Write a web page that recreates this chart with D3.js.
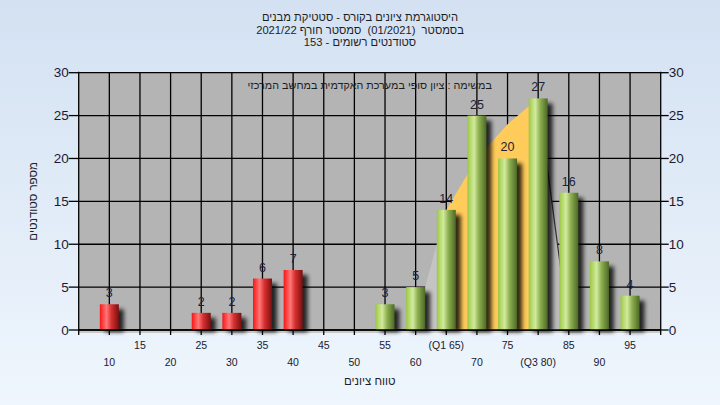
<!DOCTYPE html>
<html><head><meta charset="utf-8">
<script src="https://cdn.jsdelivr.net/npm/d3@7"></script>
<style>html,body{margin:0;padding:0;} svg{display:block;} .pre{white-space:pre;}</style>
</head><body>
<svg id="c" width="720" height="405"></svg>
<script>
// ---- data ----
const categories = [10,15,20,25,30,35,40,45,50,55,60,65,70,75,80,85,90,95];
const counts     = [3,0,0,2,2,6,7,0,0,3,5,14,25,20,27,16,8,4];
const tickLabels = ["10","15","20","25","30","35","40","45","50","55","60","(Q1 65)","70","75","(Q3 80)","85","90","95"];
const passMark = 55;
const yTicks = [0,5,10,15,20,25,30];
const areaCats = [60,65,70,75,80,85];
const areaVals = [1,14,20,24,27,0];
const q1 = 65, q3 = 80;
const titleLines = [
  "היסטוגרמת ציונים בקורס - סטטיקת מבנים",
  "בסמסטר  (01/2021)  סמסטר חורף 2021/22",
  "סטודנטים רשומים - 153"
];
const noteText = "במשימה : ציון סופי במערכת האקדמית במחשב המרכזי";
const xTitle = "טווח ציונים";
const yTitle = "מספר סטודנטים";

// ---- layout ----
const W = 720, H = 405;
const L = 78.7, R = 660.7, T = 72.7, B = 330;
const font = "'Liberation Sans', Arial, sans-serif";
const svg = d3.select("#c");
const defs = svg.append("defs");

const bgGrad = defs.append("linearGradient").attr("id","bg").attr("x1",0).attr("y1",0).attr("x2",0).attr("y2",1);
bgGrad.append("stop").attr("offset","0%").attr("stop-color","#d3e1f2");
bgGrad.append("stop").attr("offset","100%").attr("stop-color","#eff6fd");

function cyl(id, stops){
  const g = defs.append("linearGradient").attr("id",id).attr("x1",0).attr("y1",0).attr("x2",1).attr("y2",0);
  stops.forEach(s=>g.append("stop").attr("offset",s[0]).attr("stop-color",s[1]));
}
cyl("red",[["0%","#f01818"],["12%","#ff3535"],["35%","#ff7878"],["60%","#d83030"],["100%","#781010"]]);
cyl("green",[["0%","#9cc648"],["15%","#b4d868"],["35%","#d2eaa0"],["60%","#8fb050"],["100%","#4c6826"]]);

const f = defs.append("filter").attr("id","sh").attr("x","-50%").attr("y","-50%").attr("width","200%").attr("height","200%");
f.append("feGaussianBlur").attr("stdDeviation",2.2);

svg.append("rect").attr("width",W).attr("height",H).attr("fill","url(#bg)");

const x = d3.scalePoint().domain(categories).range([L,R]).padding(1);
const y = d3.scaleLinear().domain([0,30]).range([B,T]);

// plot background
svg.append("rect").attr("x",L).attr("y",T).attr("width",R-L).attr("height",B-T).attr("fill","#b4b4b4");
svg.append("line").attr("x1",L).attr("x2",R).attr("y1",B+2).attr("y2",B+2).attr("stroke","#c8c8c8").attr("stroke-width",2);

// gridlines
const grid = svg.append("g").attr("stroke","#000").attr("stroke-width",1.3);
yTicks.forEach(t=>grid.append("line").attr("x1",L).attr("x2",R).attr("y1",y(t)).attr("y2",y(t)));
categories.forEach(c=>grid.append("line").attr("x1",x(c)).attr("x2",x(c)).attr("y1",T).attr("y2",B+5));

// area overlay
const areaData = areaCats.map((c,i)=>({c,v:areaVals[i]}));
const area = d3.area().x(d=>x(d.c)).y0(y(0)).y1(d=>y(d.v));
const leftPart = areaData.filter(d=>d.c<=q1);
const midPart = areaData.filter(d=>d.c>=q1 && d.c<=q3);
const rightPart = areaData.filter(d=>d.c>=q3);
svg.append("path").attr("d",area(leftPart)).attr("fill","#c4c4c4");
svg.append("path").attr("d",area(midPart)).attr("fill","#ffcb5a");
svg.append("path").attr("d",area(rightPart)).attr("fill","#bcbcbc");
svg.append("path").attr("d",d3.line().x(d=>x(d.c)).y(d=>y(d.v))(rightPart)).attr("fill","none").attr("stroke","#333").attr("stroke-width",1.2);

// bars
const bw = 19;
const data = categories.map((c,i)=>({c,v:counts[i]}));
const bars = data.filter(d=>d.v>0);
svg.append("g").selectAll("rect").data(bars).join("rect")
  .attr("x",d=>x(d.c)-bw/2+5).attr("y",d=>y(d.v)+5)
  .attr("width",bw).attr("height",d=>Math.max(0,y(0)-y(d.v)-3))
  .attr("fill","#000").attr("opacity",0.8).attr("filter","url(#sh)");
svg.append("g").selectAll("rect").data(bars).join("rect")
  .attr("x",d=>x(d.c)-bw/2).attr("y",d=>y(d.v))
  .attr("width",bw).attr("height",d=>y(0)-y(d.v))
  .attr("fill",d=>d.c<passMark?"url(#red)":"url(#green)");

// value labels
svg.append("g").selectAll("text").data(bars).join("text")
  .attr("x",d=>x(d.c)).attr("y",d=>y(d.v)-7)
  .attr("text-anchor","middle").attr("font-family",font).attr("font-size",12.5)
  .attr("fill","#1c2236").text(d=>d.v);

// axes
const axes = svg.append("g").attr("stroke","#000").attr("stroke-width",1.3);
axes.append("line").attr("x1",L).attr("x2",L).attr("y1",T-1).attr("y2",B+5);
axes.append("line").attr("x1",R).attr("x2",R).attr("y1",T-1).attr("y2",B+5);
axes.append("line").attr("x1",L).attr("x2",R).attr("y1",B).attr("y2",B);
yTicks.forEach(t=>{
  axes.append("line").attr("x1",L-10).attr("x2",L).attr("y1",y(t)).attr("y2",y(t));
  axes.append("line").attr("x1",R).attr("x2",R+8).attr("y1",y(t)).attr("y2",y(t));
});
const tl = svg.append("g").attr("font-family",font).attr("font-size",13.5).attr("fill","#1a1a30");
yTicks.forEach(t=>{
  tl.append("text").attr("x",L-10).attr("y",y(t)).attr("dy","0.35em").attr("text-anchor","end").text(t);
  tl.append("text").attr("x",R+8).attr("y",y(t)).attr("dy","0.35em").attr("text-anchor","start").text(t);
});
const xl = svg.append("g").attr("font-family",font).attr("font-size",10.5).attr("fill","#1a1a30").attr("text-anchor","middle");
categories.forEach((c,i)=>{
  xl.append("text").attr("x",x(c)).attr("y",i%2===0?366:349).text(tickLabels[i]);
});

// titles
const tt = svg.append("g").attr("font-family",font).attr("font-size",11.2).attr("fill","#1e1e1e").attr("text-anchor","middle");
titleLines.forEach((s,i)=>tt.append("text").attr("class","pre").attr("x",360).attr("y",21+i*12.6).attr("direction","rtl").attr("text-anchor","middle").text(s));
svg.append("text").attr("x",(L+R)/2).attr("y",89).attr("text-anchor","middle").attr("direction","rtl")
  .attr("font-family",font).attr("font-size",10.8).attr("fill","#1e1e1e").text(noteText);
svg.append("text").attr("x",(L+R)/2).attr("y",385).attr("text-anchor","middle").attr("direction","rtl")
  .attr("font-family",font).attr("font-size",11.5).attr("fill","#1e1e2a").text(xTitle);
svg.append("text").attr("transform",`translate(37,${(T+B)/2}) rotate(-90)`).attr("text-anchor","middle").attr("direction","rtl")
  .attr("font-family",font).attr("font-size",11.5).attr("fill","#1e1e2a").text(yTitle);
</script>
</body></html>
